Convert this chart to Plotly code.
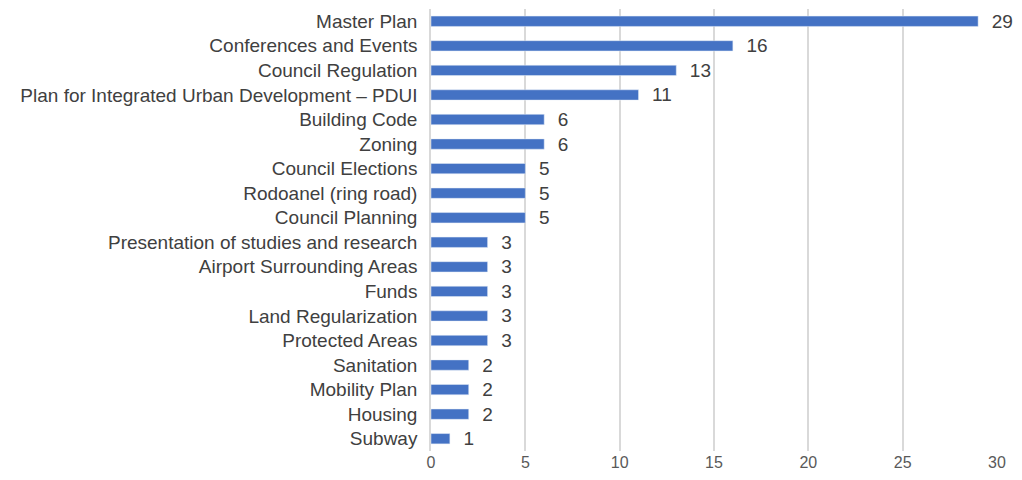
import plotly.graph_objects as go

categories = [
    "Master Plan",
    "Conferences and Events",
    "Council Regulation",
    "Plan for Integrated Urban Development – PDUI",
    "Building Code",
    "Zoning",
    "Council Elections",
    "Rodoanel (ring road)",
    "Council Planning",
    "Presentation of studies and research",
    "Airport Surrounding Areas",
    "Funds",
    "Land Regularization",
    "Protected Areas",
    "Sanitation",
    "Mobility Plan",
    "Housing",
    "Subway",
]
counts = [29, 16, 13, 11, 6, 6, 5, 5, 5, 3, 3, 3, 3, 3, 2, 2, 2, 1]
x_ticks = [0, 5, 10, 15, 20, 25, 30]

fig = go.Figure(
    go.Bar(
        x=counts,
        y=categories,
        orientation="h",
        marker=dict(color="#4472C4"),
        text=["  " + str(v) for v in counts],
        textposition="outside",
        constraintext="none",
        textfont=dict(size=19, color="#404040"),
        cliponaxis=False,
    )
)

# page body adds ~7px offset, margins compensate for it
fig.update_layout(
    paper_bgcolor="white",
    plot_bgcolor="white",
    font=dict(family="Liberation Sans, Arial, sans-serif", color="#404040"),
    margin=dict(l=423, r=17, t=1, b=19),
    bargap=0.58,
    showlegend=False,
)

fig.update_xaxes(
    range=[0, 30],
    tickvals=x_ticks,
    showgrid=True,
    gridcolor="#d9d9d9",
    gridwidth=1.5,
    zeroline=False,
    showline=False,
    tickfont=dict(size=16, color="#595959"),
    ticks="",
)

fig.update_yaxes(
    autorange="reversed",
    showline=True,
    linecolor="#d9d9d9",
    linewidth=1.5,
    tickfont=dict(size=19, color="#404040"),
    ticks="",
    ticklabelstandoff=8,
)

fig.write_html("out.html")
